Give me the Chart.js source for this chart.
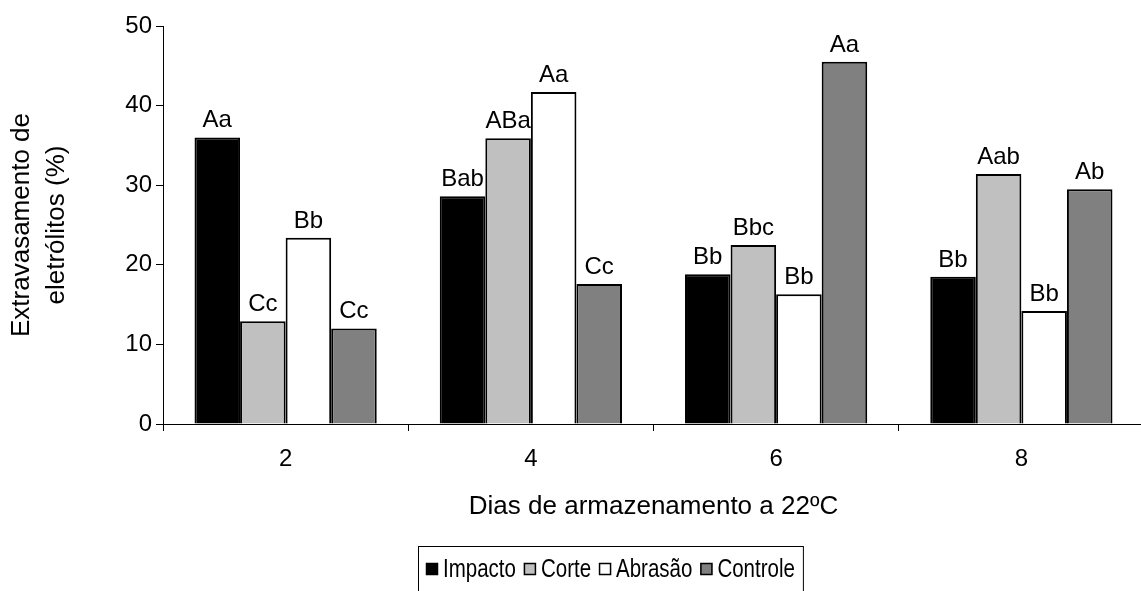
<!DOCTYPE html>
<html>
<head>
<meta charset="utf-8">
<title>Extravasamento de eletrólitos</title>
<script src="https://cdn.jsdelivr.net/npm/chart.js@4/dist/chart.umd.min.js"></script>
<style>
  html, body { margin: 0; padding: 0; background: #fff; overflow: hidden; }
  #wrap { width: 1141px; height: 591px; overflow: hidden; }
  canvas { display: block; }
</style>
</head>
<body>
<div id="wrap"><canvas id="c" width="1150" height="591"></canvas></div>
<script>
// Storage days (x categories)
const dias = ['2', '4', '6', '8'];

// Electrolyte leakage (%) per treatment
const impacto  = [36.0, 28.6, 18.8, 18.5];
const corte    = [12.9, 35.9, 22.5, 31.4];
const abrasao  = [23.4, 41.7, 16.3, 14.2];
const controle = [12.0, 17.6, 45.5, 29.5];

// Mean-comparison letters shown above each bar
const letrasImpacto  = ['Aa', 'Bab', 'Bb', 'Bb'];
const letrasCorte    = ['Cc', 'ABa', 'Bbc', 'Aab'];
const letrasAbrasao  = ['Bb', 'Aa', 'Bb', 'Bb'];
const letrasControle = ['Cc', 'Cc', 'Aa', 'Ab'];

// Y axis range
const yMin = 0, yMax = 50, yStep = 10;

const FONT = '"Liberation Sans", Arial, Helvetica, sans-serif';
const letras = [letrasImpacto, letrasCorte, letrasAbrasao, letrasControle];

// Letters drawn over each bar
const barLetters = {
  id: 'barLetters',
  afterDatasetsDraw(chart) {
    const ctx = chart.ctx;
    ctx.save();
    ctx.font = '24px ' + FONT;
    ctx.fillStyle = '#000';
    ctx.textAlign = 'center';
    ctx.textBaseline = 'alphabetic';
    chart.data.datasets.forEach((ds, i) => {
      const meta = chart.getDatasetMeta(i);
      meta.data.forEach((bar, j) => {
        ctx.fillText(letras[i][j], bar.x, bar.y - 10);
      });
    });
    ctx.restore();
  }
};

// Framed legend below the axis title
const boxLegend = {
  id: 'boxLegend',
  afterDraw(chart) {
    const ctx = chart.ctx;
    const sx = 0.82;          // condensed legend text
    const box = 12, gapIn = 5, gapOut = 8, pad = 8;
    const left = 418, top = 546, bottom = 600, midY = 569;
    ctx.save();
    ctx.font = '25px ' + FONT;
    const items = chart.data.datasets.map(ds => ({
      label: ds.label, fill: ds.backgroundColor,
      w: ctx.measureText(ds.label).width * sx
    }));
    let total = pad * 2;
    items.forEach((it, k) => { total += box + gapIn + it.w + (k < items.length - 1 ? gapOut : 0); });
    ctx.strokeStyle = '#000';
    ctx.lineWidth = 1;
    ctx.strokeRect(left + 0.5, top + 0.5, total, bottom - top);
    let x = left + pad;
    items.forEach(it => {
      ctx.fillStyle = it.fill;
      ctx.fillRect(x, midY - box / 2, box, box);
      ctx.lineWidth = 1.5;
      ctx.strokeRect(x + 0.5, midY - box / 2 + 0.5, box - 1, box - 1);
      x += box + gapIn;
      ctx.save();
      ctx.translate(x, midY);
      ctx.scale(sx, 1);
      ctx.fillStyle = '#000';
      ctx.textBaseline = 'middle';
      ctx.textAlign = 'left';
      ctx.fillText(it.label, 0, 1);
      ctx.restore();
      x += it.w + gapOut;
    });
    ctx.restore();
  }
};

const barStyle = { borderColor: '#000', borderWidth: 2, categoryPercentage: 0.743, barPercentage: 1.0 };

new Chart(document.getElementById('c'), {
  type: 'bar',
  data: {
    labels: dias,
    datasets: [
      Object.assign({ label: 'Impacto',  data: impacto,  backgroundColor: '#000000' }, barStyle),
      Object.assign({ label: 'Corte',    data: corte,    backgroundColor: '#c0c0c0' }, barStyle),
      Object.assign({ label: 'Abrasão',  data: abrasao,  backgroundColor: '#ffffff' }, barStyle),
      Object.assign({ label: 'Controle', data: controle, backgroundColor: '#808080' }, barStyle)
    ]
  },
  options: {
    responsive: false,
    devicePixelRatio: 1,
    animation: false,
    layout: { padding: { top: 26, right: 6, left: 0, bottom: 57 } },
    plugins: { legend: { display: false }, tooltip: { enabled: false } },
    scales: {
      x: {
        type: 'category',
        offset: true,
        grid: { offset: true, drawOnChartArea: false, tickLength: 7, color: '#000', lineWidth: 1 },
        border: { color: '#000', width: 1 },
        ticks: { color: '#000', font: { size: 24, family: FONT }, padding: 14, maxRotation: 0 },
        title: {
          display: true, text: 'Dias de armazenamento a 22ºC', color: '#000',
          font: { size: 26, family: FONT }, padding: { top: 0, bottom: 12 }
        },
        afterFit(s) { s.height = 110; }
      },
      y: {
        min: yMin, max: yMax,
        ticks: { stepSize: yStep, color: '#000', font: { size: 24, family: FONT }, padding: 4 },
        grid: { drawOnChartArea: false, tickLength: 7, color: '#000', lineWidth: 1 },
        border: { color: '#000', width: 1 },
        title: {
          display: true, text: ['Extravasamento de', 'eletrólitos (%)'], color: '#000',
          font: { size: 26, family: FONT, lineHeight: 1.35 }, padding: { top: 4, bottom: 0 }
        },
        afterFit(s) { s.width = 163; }
      }
    }
  },
  plugins: [barLetters, boxLegend]
});
</script>
</body>
</html>
